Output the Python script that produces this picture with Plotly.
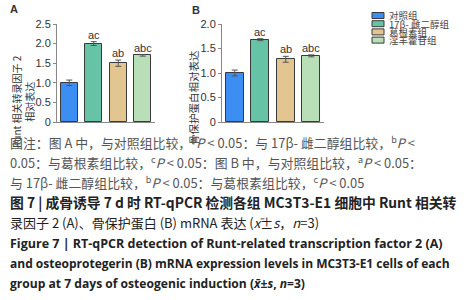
import plotly.graph_objects as go

groups = ["对照组", "17β- 雌二醇组", "葛根素组", "淫羊藿苷组"]
colors = ["#3d8ef2", "#66c3a6", "#e2c590", "#b8dfb7"]
runx2_vals = [1.00, 2.00, 1.50, 1.70]
runx2_err = [0.07, 0.05, 0.08, 0.02]
runx2_sig = ["", "ac", "ab", "abc"]
opg_vals = [1.00, 1.68, 1.28, 1.35]
opg_err = [0.06, 0.02, 0.06, 0.02]
opg_sig = ["", "ac", "ab", "abc"]

caption_lines = [
    "图注：图 A 中，与对照组比较，<sup>a</sup><i>P</i> < 0.05：与 17β- 雌二醇组比较，<sup>b</sup><i>P</i> <",
    "0.05：与葛根素组比较，<sup>c</sup><i>P</i> < 0.05：图 B 中，与对照组比较，<sup>a</sup><i>P</i> < 0.05：",
    "与 17β- 雌二醇组比较，<sup>b</sup><i>P</i> < 0.05：与葛根素组比较，<sup>c</sup><i>P</i> < 0.05",
    "<b>图 7 | 成骨诱导 7 d 时 RT-qPCR 检测各组 MC3T3-E1 细胞中 Runt 相关转</b>",
    "录因子 2 (A)、骨保护蛋白 (B) mRNA 表达 (<i>x̄</i>±<i>s</i>，<i>n</i>=3)",
    "<b>Figure 7 | RT-qPCR detection of Runt-related transcription factor 2 (A)</b>",
    "<b>and osteoprotegerin (B) mRNA expression levels in MC3T3-E1 cells of each</b>",
    "<b>group at 7 days of osteogenic induction (<i>x̄</i>±<i>s</i>, <i>n</i>=3)</b>",
]

W, H = 468, 300
CJK = "Noto Sans CJK SC"
TXT = "#333333"

fig = go.Figure()
idx = list(range(4))
for i in idx:
    fig.add_trace(go.Bar(
        x=[i], y=[runx2_vals[i]], name=groups[i], marker_color=colors[i],
        marker_line=dict(color="#3a3a3a", width=1),
        error_y=dict(type="data", array=[runx2_err[i]], color="#555555", thickness=1, width=3),
        width=0.7, xaxis="x", yaxis="y", showlegend=False))
for i in idx:
    fig.add_trace(go.Bar(
        x=[i], y=[opg_vals[i]], name=groups[i], marker_color=colors[i],
        marker_line=dict(color="#3a3a3a", width=1),
        error_y=dict(type="data", array=[opg_err[i]], color="#555555", thickness=1, width=3),
        width=0.7, xaxis="x2", yaxis="y2", showlegend=False))

def px_x(p):
    return p / W
def px_y(p):
    return 1 - p / H

ax_common = dict(showgrid=False, zeroline=False, showline=True, linecolor="#888888", linewidth=1,
                 showticklabels=False, ticks="", range=[-0.5, 3.5], fixedrange=True)
yax_common = dict(showgrid=False, zeroline=False, showline=True, linecolor="#888888", linewidth=1,
                  ticks="outside", ticklen=3, tickcolor="#888888", automargin=False,
                  tickfont=dict(family="Liberation Sans", size=11, color=TXT))

fig.update_layout(
    width=W, height=H, margin=dict(l=0, r=0, t=0, b=0, autoexpand=False),
    paper_bgcolor="white", plot_bgcolor="white", bargap=0, showlegend=False,
    xaxis=dict(domain=[px_x(57), px_x(155)], anchor="y", automargin=False, **ax_common),
    xaxis2=dict(domain=[px_x(222), px_x(324)], anchor="y2", automargin=False, **ax_common),
    yaxis=dict(domain=[px_y(122), px_y(24)], anchor="x", range=[0, 2.5], tickvals=[0, 0.5, 1, 1.5, 2, 2.5],
               ticktext=["0", "0.5", "1.0", "1.5", "2.0", "2.5"], **yax_common),
    yaxis2=dict(domain=[px_y(122), px_y(24)], anchor="x2", range=[0, 2.0], tickvals=[0, 0.5, 1, 1.5, 2],
                ticktext=["0", "0.5", "1.0", "1.5", "2.0"], **yax_common),
)

ann = []
shapes = []
for i in idx:
    if runx2_sig[i]:
        ann.append(dict(x=i, y=runx2_vals[i] + runx2_err[i], xref="x", yref="y", text=runx2_sig[i],
                        showarrow=False, yanchor="bottom", yshift=-1,
                        font=dict(family="Liberation Sans", size=11, color=TXT)))
    if opg_sig[i]:
        ann.append(dict(x=i, y=opg_vals[i] + opg_err[i], xref="x2", yref="y2", text=opg_sig[i],
                        showarrow=False, yanchor="bottom", yshift=-1,
                        font=dict(family="Liberation Sans", size=11, color=TXT)))

# legend drawn manually
leg_y = [15.5, 23.7, 31.9, 40.1]
for i in idx:
    shapes.append(dict(type="rect", xref="paper", yref="paper",
                       x0=px_x(372), x1=px_x(384), y0=px_y(leg_y[i] + 3.0), y1=px_y(leg_y[i] - 3.0),
                       fillcolor=colors[i], line=dict(color="#3a3a3a", width=1)))
    ann.append(dict(x=px_x(387), y=px_y(leg_y[i]), xref="paper", yref="paper", xanchor="left",
                    yanchor="middle", text=groups[i], showarrow=False,
                    font=dict(family=CJK, size=9.5, color="#444444")))

ann.append(dict(x=px_x(14), y=px_y(9), xref="paper", yref="paper", text="<b>A</b>", showarrow=False,
                xanchor="center", yanchor="middle",
                font=dict(family="Liberation Sans", size=11, color=TXT)))
ann.append(dict(x=px_x(196), y=px_y(10), xref="paper", yref="paper", text="<b>B</b>", showarrow=False,
                xanchor="center", yanchor="middle",
                font=dict(family="Liberation Sans", size=11, color=TXT)))
ann.append(dict(x=px_x(23), y=px_y(102), xref="paper", yref="paper",
                text="Runt 相关转录因子 2<br>相对表达", textangle=-90, showarrow=False,
                xanchor="center", yanchor="middle",
                font=dict(family=CJK, size=10, color=TXT)))
ann.append(dict(x=px_x(193), y=px_y(98), xref="paper", yref="paper",
                text="骨保护蛋白相对表达", textangle=-90, showarrow=False,
                xanchor="center", yanchor="middle",
                font=dict(family=CJK, size=10.5, color=TXT)))

cap_y = [142, 162, 182, 202, 222, 243, 263, 283]
cap_size = [12.9, 12.9, 12.9, 13.8, 13.0, 12.5, 12.0, 12.1]
for j, line in enumerate(caption_lines):
    col = "#555555" if j < 3 else "#222222"
    fam = CJK if j < 5 else "Open Sans, " + CJK
    ann.append(dict(x=px_x(8), y=px_y(cap_y[j]), xref="paper", yref="paper", xanchor="left",
                    yanchor="middle", text=line, showarrow=False, align="left",
                    font=dict(family=fam, size=cap_size[j], color=col)))

fig.update_layout(annotations=ann, shapes=shapes)
fig.write_html("out.html", config={"displayModeBar": False},
               post_script="document.body.style.margin='0px';")
